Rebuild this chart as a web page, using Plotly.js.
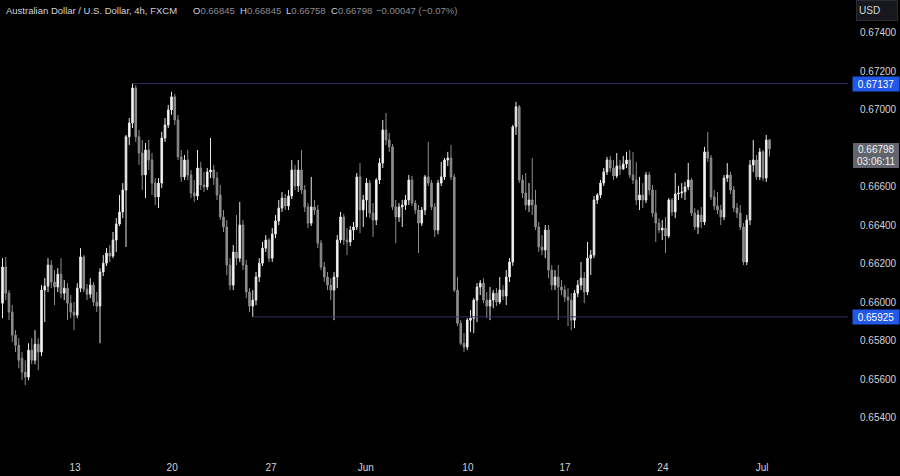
<!DOCTYPE html>
<html>
<head>
<meta charset="utf-8">
<script src="https://cdn.plot.ly/plotly-3.0.1.min.js"></script>
<style>html,body{margin:0;padding:0;background:#000;}#chart{width:900px;height:476px;}</style>
</head>
<body>
<div id="chart"></div>
<script>
// AUD/USD 4h candles (FXCM)
const opens = [0.65996,0.66184,0.66048,0.65950,0.65830,0.65778,0.65710,0.65638,0.65612,0.65752,0.65700,0.65783,0.65742,0.66064,0.66085,0.66194,0.66106,0.66080,0.66147,0.66048,
0.66074,0.65996,0.65950,0.65934,0.66074,0.66236,0.66069,0.66043,0.66090,0.66002,0.65981,0.66158,0.66204,0.66256,0.66241,0.66324,0.66407,0.66470,0.66584,0.66860,
0.66932,0.67114,0.66860,0.66776,0.66662,0.66792,0.66740,0.66620,0.66548,0.66620,0.66854,0.66922,0.67000,0.67068,0.66948,0.66756,0.66652,0.66740,0.66662,0.66568,
0.66553,0.66698,0.66610,0.66600,0.66678,0.66688,0.66646,0.66558,0.66444,0.66392,0.66194,0.66090,0.66262,0.66230,0.66402,0.66194,0.66054,0.65981,0.66012,0.66132,
0.66204,0.66282,0.66324,0.66230,0.66355,0.66423,0.66490,0.66542,0.66501,0.66553,0.66688,0.66605,0.66688,0.66584,0.66496,0.66412,0.66496,0.66480,0.66308,0.66184,
0.66132,0.66090,0.66064,0.66132,0.66324,0.66444,0.66324,0.66314,0.66376,0.66392,0.66652,0.66480,0.66532,0.66620,0.66464,0.66428,0.66636,0.66724,0.66896,0.66844,
0.66808,0.66496,0.66444,0.66496,0.66506,0.66532,0.66636,0.66516,0.66480,0.66412,0.66480,0.66652,0.66620,0.66496,0.66376,0.66620,0.66652,0.66740,0.66750,0.66652,
0.66064,0.65892,0.65788,0.65768,0.65908,0.65918,0.66012,0.66080,0.66100,0.66012,0.65981,0.66012,0.66048,0.66002,0.66064,0.66033,0.66132,0.66210,0.66912,0.67016,
0.66636,0.66568,0.66506,0.66532,0.66506,0.66392,0.66288,0.66272,0.66376,0.66168,0.66090,0.66132,0.66080,0.66064,0.66028,0.66012,0.65908,0.66048,0.66090,0.66126,
0.66054,0.66230,0.66246,0.66532,0.66558,0.66620,0.66678,0.66740,0.66698,0.66657,0.66709,0.66693,0.66719,0.66740,0.66662,0.66636,0.66532,0.66558,0.66532,0.66662,
0.66584,0.66464,0.66412,0.66376,0.66386,0.66345,0.66532,0.66470,0.66563,0.66568,0.66574,0.66600,0.66636,0.66464,0.66392,0.66454,0.66418,0.66782,0.66750,0.66548,
0.66501,0.66480,0.66444,0.66646,0.66662,0.66584,0.66490,0.66464,0.66392,0.66210,0.66428,0.66714,0.66740,0.66652,0.66782,0.66646,0.66845];
const highs = [0.66230,0.66236,0.66064,0.65986,0.65856,0.65814,0.65742,0.65700,0.65788,0.65814,0.65856,0.65814,0.66090,0.66126,0.66230,0.66220,0.66168,0.66178,0.66230,0.66116,
0.66100,0.66038,0.66002,0.66100,0.66282,0.66246,0.66095,0.66126,0.66106,0.66054,0.66178,0.66246,0.66282,0.66298,0.66366,0.66438,0.66558,0.66620,0.66870,0.66958,
0.67137,0.67128,0.66896,0.66844,0.66828,0.66844,0.66776,0.66646,0.66646,0.66886,0.66958,0.67026,0.67094,0.67083,0.66974,0.66792,0.66766,0.66792,0.66688,0.66636,
0.66792,0.66730,0.66678,0.66698,0.66854,0.66714,0.66678,0.66610,0.66480,0.66428,0.66230,0.66298,0.66454,0.66522,0.66428,0.66220,0.66074,0.66064,0.66158,0.66230,
0.66314,0.66350,0.66334,0.66386,0.66454,0.66532,0.66574,0.66563,0.66584,0.66740,0.66714,0.66740,0.66792,0.66610,0.66516,0.66652,0.66532,0.66506,0.66324,0.66210,
0.66158,0.66126,0.66158,0.66350,0.66470,0.66459,0.66386,0.66397,0.66418,0.66672,0.66724,0.66558,0.66646,0.66636,0.66516,0.66646,0.66750,0.66948,0.66984,0.66880,
0.66823,0.66532,0.66516,0.66532,0.66558,0.66662,0.66657,0.66532,0.66506,0.66496,0.66662,0.66834,0.66636,0.66516,0.66636,0.66730,0.66750,0.66782,0.66818,0.66667,
0.66132,0.65908,0.65840,0.65918,0.65960,0.66022,0.66100,0.66116,0.66126,0.66054,0.66080,0.66064,0.66074,0.66132,0.66090,0.66168,0.66230,0.66922,0.67042,0.67026,
0.66662,0.66672,0.66620,0.66750,0.66584,0.66418,0.66350,0.66402,0.66402,0.66194,0.66168,0.66194,0.66116,0.66090,0.66074,0.66048,0.66064,0.66116,0.66210,0.66158,
0.66314,0.66272,0.66553,0.66568,0.66636,0.66698,0.66756,0.66761,0.66740,0.66776,0.66740,0.66761,0.66782,0.66792,0.66782,0.66730,0.66652,0.66620,0.66678,0.66678,
0.66610,0.66584,0.66438,0.66428,0.66444,0.66542,0.66542,0.66672,0.66605,0.66620,0.66626,0.66724,0.66646,0.66490,0.66480,0.66496,0.66808,0.66886,0.66766,0.66584,
0.66574,0.66506,0.66662,0.66724,0.66678,0.66605,0.66516,0.66506,0.66412,0.66454,0.66740,0.66844,0.66766,0.66802,0.66792,0.66870,0.66845];
const lows = [0.65918,0.66012,0.65908,0.65794,0.65742,0.65658,0.65596,0.65570,0.65596,0.65679,0.65679,0.65648,0.65721,0.65898,0.66054,0.66074,0.65986,0.66054,0.66022,0.66012,
0.65908,0.65918,0.65856,0.65918,0.66054,0.66054,0.66012,0.66022,0.65981,0.65950,0.65788,0.66137,0.66189,0.66210,0.66230,0.66262,0.66397,0.66438,0.66288,0.66818,
0.66906,0.66834,0.66714,0.66584,0.66542,0.66688,0.66558,0.66506,0.66490,0.66594,0.66834,0.66906,0.66974,0.66922,0.66740,0.66626,0.66636,0.66636,0.66542,0.66522,
0.66532,0.66584,0.66574,0.66584,0.66646,0.66610,0.66532,0.66428,0.66366,0.66142,0.66064,0.66064,0.66194,0.66210,0.66168,0.66022,0.65950,0.65925,0.65986,0.66106,
0.66189,0.66262,0.66210,0.66210,0.66334,0.66402,0.66470,0.66480,0.66480,0.66537,0.66584,0.66574,0.66563,0.66470,0.66386,0.66397,0.66454,0.66282,0.66168,0.66106,
0.66064,0.66012,0.65908,0.66074,0.66308,0.66298,0.66246,0.66293,0.66324,0.66376,0.66360,0.66392,0.66444,0.66438,0.66340,0.66402,0.66615,0.66698,0.66818,0.66782,
0.66480,0.66308,0.66418,0.66392,0.66480,0.66506,0.66501,0.66459,0.66256,0.66397,0.66454,0.66605,0.66480,0.66340,0.66355,0.66605,0.66636,0.66709,0.66636,0.66054,
0.65877,0.65778,0.65742,0.65752,0.65846,0.65840,0.65898,0.66038,0.65996,0.65918,0.65908,0.65970,0.65981,0.65991,0.66012,0.65986,0.66106,0.66190,0.66870,0.66620,
0.66542,0.66480,0.66470,0.66454,0.66376,0.66262,0.66246,0.66230,0.66126,0.66064,0.66064,0.65908,0.66038,0.66002,0.65877,0.65856,0.65866,0.66028,0.66064,0.65996,
0.66038,0.66142,0.66230,0.66511,0.66542,0.66605,0.66662,0.66678,0.66636,0.66646,0.66662,0.66688,0.66698,0.66646,0.66615,0.66506,0.66480,0.66490,0.66516,0.66558,
0.66444,0.66314,0.66360,0.66324,0.66256,0.66334,0.66449,0.66438,0.66532,0.66542,0.66532,0.66584,0.66449,0.66376,0.66355,0.66386,0.66402,0.66730,0.66532,0.66480,
0.66459,0.66402,0.66428,0.66626,0.66563,0.66470,0.66438,0.66376,0.66194,0.66194,0.66402,0.66678,0.66636,0.66636,0.66631,0.66626,0.66758];
const closes = [0.66184,0.66048,0.65950,0.65830,0.65778,0.65700,0.65638,0.65612,0.65752,0.65700,0.65783,0.65742,0.66064,0.66085,0.66194,0.66106,0.66080,0.66147,0.66048,0.66074,
0.65996,0.65950,0.65934,0.66074,0.66236,0.66069,0.66043,0.66090,0.66002,0.65981,0.66158,0.66204,0.66256,0.66241,0.66324,0.66407,0.66470,0.66584,0.66860,0.66932,
0.67114,0.66860,0.66776,0.66662,0.66792,0.66740,0.66620,0.66548,0.66620,0.66854,0.66922,0.67000,0.67068,0.66948,0.66756,0.66652,0.66740,0.66662,0.66568,0.66553,
0.66698,0.66610,0.66600,0.66678,0.66688,0.66646,0.66558,0.66444,0.66392,0.66194,0.66090,0.66262,0.66230,0.66402,0.66194,0.66054,0.65981,0.66012,0.66132,0.66204,
0.66282,0.66324,0.66230,0.66355,0.66423,0.66490,0.66542,0.66501,0.66553,0.66688,0.66605,0.66688,0.66584,0.66496,0.66412,0.66496,0.66480,0.66308,0.66184,0.66132,
0.66090,0.66064,0.66132,0.66324,0.66444,0.66324,0.66314,0.66376,0.66392,0.66652,0.66480,0.66532,0.66620,0.66464,0.66428,0.66636,0.66724,0.66896,0.66844,0.66808,
0.66496,0.66444,0.66496,0.66506,0.66532,0.66636,0.66516,0.66480,0.66412,0.66480,0.66652,0.66620,0.66496,0.66376,0.66620,0.66652,0.66740,0.66750,0.66652,0.66064,
0.65892,0.65788,0.65768,0.65908,0.65918,0.66012,0.66080,0.66100,0.66012,0.65981,0.66012,0.66048,0.66002,0.66064,0.66033,0.66132,0.66210,0.66912,0.67016,0.66636,
0.66568,0.66506,0.66532,0.66506,0.66392,0.66288,0.66272,0.66376,0.66168,0.66090,0.66132,0.66080,0.66064,0.66028,0.66012,0.65908,0.66048,0.66090,0.66126,0.66054,
0.66230,0.66246,0.66532,0.66558,0.66620,0.66678,0.66740,0.66698,0.66657,0.66709,0.66693,0.66719,0.66740,0.66662,0.66636,0.66532,0.66558,0.66532,0.66662,0.66584,
0.66464,0.66412,0.66376,0.66386,0.66345,0.66532,0.66470,0.66563,0.66568,0.66574,0.66600,0.66636,0.66464,0.66392,0.66454,0.66418,0.66782,0.66750,0.66548,0.66501,
0.66480,0.66444,0.66646,0.66662,0.66584,0.66490,0.66464,0.66392,0.66210,0.66428,0.66714,0.66740,0.66652,0.66782,0.66646,0.66844,0.66798];

// x-axis labels (week starts) and the bar they fall on
const tickLabels = ['13', '20', '27', 'Jun', '10', '17', '24', 'Jul'];
const tickBars = [22.3, 52.2, 82.6, 111.8, 143.2, 173.1, 203.2, 233.7];
// price-scale labels shown (0.66800 is hidden behind the last-price label)
const priceTicks = [0.654, 0.656, 0.658, 0.660, 0.662, 0.664, 0.666, 0.670, 0.672, 0.674];

// horizontal levels
const resistanceLevel = 0.67137, resistanceFromBar = 40;
const supportLevel = 0.65925, supportFromBar = 77;
const lastPrice = 0.66798, countdown = '03:06:11';
const header = {name: 'Australian Dollar / U.S. Dollar, 4h, FXCM', o: '0.66845', h: '0.66845', l: '0.66758', c: '0.66798', chg: '\u22120.00047 (\u22120.07%)'};

const bars = closes.map((_, i) => i);
const xRange = [-0.77, 260.15];
const yRange = [0.65223, 0.67571];
const PW = 848, PH = 452;

const trace = {
  type: 'candlestick', x: bars, open: opens, high: highs, low: lows, close: closes,
  increasing: {line: {color: '#e6e6e6', width: 1}, fillcolor: '#ffffff'},
  decreasing: {line: {color: '#8c8c8c', width: 1}, fillcolor: '#8c8c8c'},
  whiskerwidth: 0, hoverinfo: 'none', showlegend: false
};

const lbl = '#d1d4dc', dim = '#8a8d96';
const FF = 'Liberation Sans, Arial, sans-serif';
function hdr(px, text) {
  return {xref: 'paper', yref: 'paper', x: px / PW, y: 1 - 10 / PH, xanchor: 'left', yanchor: 'middle',
    text: text, showarrow: false, font: {family: FF, size: 9.5, color: lbl}};
}
const sp = s => '<span style="color:' + dim + '">' + s + '</span>';
const levelColor = '#2d3162';

const layout = {
  width: 900, height: 476,
  paper_bgcolor: '#000000', plot_bgcolor: '#000000',
  margin: {l: 0, r: 52, t: 0, b: 24},
  dragmode: false, showlegend: false,
  xaxis: {range: xRange, rangeslider: {visible: false}, showgrid: false, zeroline: false, showline: false,
    tickmode: 'array', tickvals: tickBars, ticktext: tickLabels, ticks: 'outside', ticklen: 6, tickcolor: 'rgba(0,0,0,0)',
    tickfont: {family: FF, size: 10, color: lbl}, fixedrange: true},
  yaxis: {range: yRange, side: 'right', showgrid: false, zeroline: false, showline: false,
    tickmode: 'array', tickvals: priceTicks, tickformat: '.5f', ticks: 'outside', ticklen: 9, tickcolor: 'rgba(0,0,0,0)',
    tickfont: {family: FF, size: 10, color: lbl}, fixedrange: true},
  shapes: [
    {type: 'line', xref: 'x', yref: 'y', x0: resistanceFromBar, x1: xRange[1], y0: resistanceLevel, y1: resistanceLevel,
     line: {color: levelColor, width: 1}},
    {type: 'line', xref: 'x', yref: 'y', x0: supportFromBar, x1: xRange[1], y0: supportLevel, y1: supportLevel,
     line: {color: levelColor, width: 1}},
    // background box of the last-price / countdown label
    {type: 'rect', xref: 'paper', yref: 'paper', x0: 853 / PW, x1: 899 / PW, y0: 1 - 168 / PH, y1: 1 - 143 / PH,
     fillcolor: '#62646d', line: {width: 0}, layer: 'above'}
  ],
  annotations: [
    hdr(4, header.name),
    hdr(191, 'O' + sp(header.o)),
    hdr(238, 'H' + sp(header.h)),
    hdr(284, 'L' + sp(header.l)),
    hdr(329, 'C' + sp(header.c)),
    hdr(374, sp(header.chg)),
    {xref: 'paper', yref: 'paper', x: 856 / PW, y: 1 - 11 / PH, xanchor: 'left', yanchor: 'middle',
     text: 'USD', showarrow: false, width: 36, height: 15, align: 'left', bgcolor: '#16181e', bordercolor: '#2a2d36',
     borderwidth: 1, borderpad: 2, font: {family: FF, size: 10, color: lbl}},
    {xref: 'paper', yref: 'y', x: 852 / PW, y: resistanceLevel, xanchor: 'left', yanchor: 'middle',
     text: resistanceLevel.toFixed(5), showarrow: false, width: 44, height: 12, bgcolor: '#2158e8', borderpad: 1,
     font: {family: FF, size: 10, color: '#ffffff'}},
    {xref: 'paper', yref: 'y', x: 852 / PW, y: supportLevel, xanchor: 'left', yanchor: 'middle',
     text: supportLevel.toFixed(5), showarrow: false, width: 44, height: 12, bgcolor: '#2158e8', borderpad: 1,
     font: {family: FF, size: 10, color: '#ffffff'}},
    {xref: 'paper', yref: 'paper', x: 876 / PW, y: 1 - 149.5 / PH, xanchor: 'center', yanchor: 'middle',
     text: lastPrice.toFixed(5), showarrow: false, font: {family: FF, size: 10, color: '#f0f0f0'}},
    {xref: 'paper', yref: 'paper', x: 876 / PW, y: 1 - 161.5 / PH, xanchor: 'center', yanchor: 'middle',
     text: countdown, showarrow: false, font: {family: FF, size: 10, color: '#f0f0f0'}}
  ]
};

Plotly.newPlot('chart', [trace], layout, {displayModeBar: false, staticPlot: true});
</script>
</body>
</html>
